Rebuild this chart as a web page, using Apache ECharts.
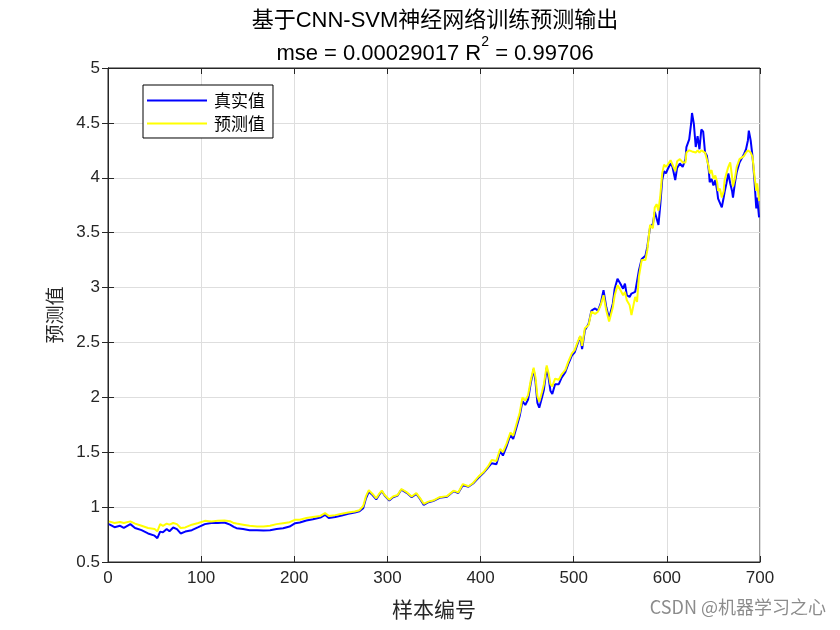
<!DOCTYPE html>
<html>
<head>
<meta charset="utf-8">
<script src="https://cdn.jsdelivr.net/npm/echarts@6/dist/echarts.min.js"></script>
<style>html,body{margin:0;padding:0;background:#fff;}#c{width:840px;height:630px;}</style>
</head>
<body>
<div id="c"></div>
<script>
// sample index (x)
var sampleIdx = [1,7,13,17,24,29,36,43,50,53,56,59,63,66,70,74,78,83,90,97,104,111,118,125,131,135,
138,145,152,160,167,174,181,188,195,201,206,213,220,228,233,237,244,251,258,265,270,274,277,280,
284,288,291,294,297,302,306,311,315,321,326,331,335,339,344,349,356,364,371,376,381,387,392,398,403,408,
412,417,421,424,428,432,435,439,442,445,448,451,454,457,459,461,463,466,468,471,473,475,477,480,484,487,491,494,498,501,504,507,509,
512,516,519,523,526,529,532,535,538,542,544,547,550,553,555,557,560,562,566,568,570,573,577,579,582,585,587,589,591,593,595,597,599,
601,604,606,609,611,614,617,620,621,624,626,627,629,631,633,635,637,639,641,643,645,646,648,650,652,654,655,657,659,661,662,664,666,668,670,671,673,675,678,680,683,685,687,688,690,692,694,696,697,699];
// true values (真实值)
var trueVals = [0.845,0.817,0.83,0.81,0.845,0.81,0.79,0.76,0.74,0.717,0.777,0.77,0.80,0.78,0.814,0.80,0.76,0.777,0.79,0.817,0.845,0.855,0.855,0.86,0.84,0.82,
0.808,0.80,0.79,0.79,0.786,0.79,0.80,0.808,0.823,0.854,0.86,0.878,0.89,0.905,0.93,0.90,0.91,0.923,0.94,0.95,0.962,0.99,1.08,1.14,
1.11,1.07,1.11,1.145,1.105,1.06,1.09,1.105,1.16,1.128,1.09,1.12,1.075,1.02,1.045,1.055,1.085,1.095,1.145,1.128,1.20,1.185,1.215,1.27,1.31,1.36,
1.40,1.39,1.51,1.47,1.555,1.66,1.62,1.74,1.83,1.966,1.93,1.98,2.134,2.256,2.14,1.95,1.906,2.0,2.07,2.27,2.18,2.06,2.03,2.12,2.12,2.18,2.23,2.30,2.38,2.41,2.485,2.555,2.44,
2.61,2.67,2.79,2.81,2.79,2.855,2.976,2.82,2.72,2.855,2.99,3.08,3.036,2.99,3.036,2.93,2.915,2.945,2.96,2.945,3.157,3.26,3.29,3.37,3.55,3.58,3.69,3.70,3.57,3.76,3.98,4.06,4.04,
4.08,4.13,4.10,3.98,4.09,4.13,4.10,4.17,4.28,4.35,4.49,4.59,4.49,4.28,4.38,4.26,4.44,4.42,4.23,4.20,4.07,3.96,3.99,3.93,3.98,3.88,3.81,3.82,3.73,3.82,3.87,3.95,4.04,3.95,3.88,3.82,3.95,4.05,4.14,4.17,4.22,4.26,4.34,4.43,4.34,4.19,3.98,3.72,3.82,3.64];
// predicted values (预测值)
var predVals = [0.87,0.855,0.865,0.855,0.87,0.85,0.83,0.81,0.80,0.78,0.845,0.83,0.85,0.84,0.855,0.845,0.81,0.815,0.84,0.855,0.875,0.87,0.875,0.878,0.872,0.855,
0.85,0.84,0.83,0.823,0.823,0.83,0.845,0.854,0.863,0.885,0.885,0.90,0.91,0.92,0.945,0.92,0.927,0.94,0.95,0.96,0.972,1.01,1.10,1.155,
1.12,1.08,1.12,1.15,1.11,1.067,1.097,1.11,1.165,1.134,1.097,1.128,1.082,1.03,1.05,1.06,1.09,1.10,1.15,1.134,1.21,1.19,1.22,1.28,1.317,1.37,
1.43,1.42,1.53,1.50,1.58,1.68,1.65,1.77,1.86,2.0,1.97,2.02,2.16,2.27,2.18,2.01,1.96,2.05,2.12,2.29,2.22,2.12,2.10,2.17,2.16,2.21,2.25,2.32,2.40,2.43,2.50,2.56,2.47,
2.63,2.66,2.78,2.76,2.78,2.84,2.93,2.79,2.69,2.82,2.93,3.02,2.98,2.93,2.96,2.885,2.84,2.75,2.915,2.87,3.10,3.25,3.25,3.34,3.57,3.54,3.73,3.76,3.70,3.84,4.04,4.12,4.10,
4.12,4.16,4.15,4.06,4.15,4.17,4.14,4.14,4.23,4.25,4.25,4.24,4.25,4.23,4.25,4.23,4.25,4.25,4.23,4.22,4.10,4.04,4.07,3.99,4.02,3.96,3.88,3.90,3.82,3.88,3.98,4.04,4.10,4.14,4.01,3.92,3.99,4.10,4.17,4.16,4.20,4.23,4.25,4.26,4.23,4.19,4.02,3.88,3.95,3.79];
var xTicks = [0,100,200,300,400,500,600,700];
var yTicks = [0.5,1,1.5,2,2.5,3,3.5,4,4.5,5];

var titleLine1 = '基于CNN-SVM神经网络训练预测输出';
var mseText = 'mse = 0.00029017 R';
var r2Text = ' = 0.99706';
var legendNames = ['真实值','预测值'];

function pairs(xs, ys){ return xs.map(function(x,i){ return [x, ys[i]]; }); }

var chart = echarts.init(document.getElementById('c'), null, {renderer:'canvas'});
var fontLatin = '"Liberation Sans", Arial, "Noto Sans CJK SC", sans-serif';
var fontCJK = '"Noto Sans CJK SC", "Liberation Sans", sans-serif';
var axisColor = '#262626';
chart.setOption({
  backgroundColor: '#ffffff',
  animation: false,
  title: [
    { text: titleLine1, left: 430, top: 5, textAlign: 'center',
      textStyle: { fontSize: 22, fontWeight: 'normal', color: '#000', fontFamily: fontLatin } },
    { text: '{a|' + mseText + '}{s|2}{a|' + r2Text + '}', left: 430, top: 30, textAlign: 'center',
      textStyle: { fontWeight: 'normal', rich: {
        a: { fontSize: 22, fontWeight: 'normal', color: '#000', fontFamily: fontLatin, lineHeight: 30, verticalAlign: 'bottom' },
        s: { fontSize: 14, fontWeight: 'normal', color: '#000', fontFamily: fontLatin, lineHeight: 30, verticalAlign: 'top' }
      } } }
  ],
  legend: {
    data: legendNames,
    orient: 'vertical',
    left: 143, top: 85,
    width: 129,
    backgroundColor: '#fff',
    borderColor: '#000', borderWidth: 1,
    padding: [7, 8, 6, 4],
    itemGap: 6,
    itemWidth: 60, itemHeight: 2,
    icon: 'rect',
    textStyle: { fontSize: 17, color: '#000', fontFamily: fontCJK, padding: [0,0,0,2] }
  },
  grid: { left: 108, right: 80, top: 68, bottom: 68, show: true, borderColor: axisColor, borderWidth: 1, backgroundColor: 'transparent' },
  xAxis: [{
    type: 'value', min: 0, max: 700, interval: 100,
    name: '样本编号', nameLocation: 'middle', nameGap: 37,
    nameTextStyle: { fontSize: 21, color: axisColor, fontFamily: fontCJK },
    axisLine: { show: true, lineStyle: { color: axisColor, width: 1 } },
    axisTick: { show: true, inside: true, length: 6, lineStyle: { color: axisColor } },
    axisLabel: { fontSize: 17, color: axisColor, fontFamily: fontLatin, margin: 8 },
    splitLine: { show: true, lineStyle: { color: '#dedede', width: 1 } }
  }, {
    type: 'value', min: 0, max: 700, interval: 100, position: 'top',
    axisLine: { show: true, lineStyle: { color: axisColor } },
    axisTick: { show: true, inside: true, length: 6, lineStyle: { color: axisColor } },
    axisLabel: { show: false }, splitLine: { show: false }
  }],
  yAxis: [{
    type: 'value', min: 0.5, max: 5, interval: 0.5,
    name: '预测值', nameLocation: 'middle', nameGap: 44, nameRotate: 90,
    nameTextStyle: { fontSize: 19, color: axisColor, fontFamily: fontCJK },
    axisLine: { show: true, lineStyle: { color: axisColor, width: 1 } },
    axisTick: { show: true, inside: true, length: 6, lineStyle: { color: axisColor } },
    axisLabel: { fontSize: 17, color: axisColor, fontFamily: fontLatin, margin: 8 },
    splitLine: { show: true, lineStyle: { color: '#dedede', width: 1 } }
  }, {
    type: 'value', min: 0.5, max: 5, interval: 0.5, position: 'right',
    axisLine: { show: true, lineStyle: { color: axisColor } },
    axisTick: { show: true, inside: true, length: 6, lineStyle: { color: axisColor } },
    axisLabel: { show: false }, splitLine: { show: false }
  }],
  series: [
    { name: legendNames[0], type: 'line', data: pairs(sampleIdx, trueVals), showSymbol: false, symbol: 'none',
      lineStyle: { color: '#0000ff', width: 2 }, itemStyle: { color: '#0000ff' } },
    { name: legendNames[1], type: 'line', data: pairs(sampleIdx, predVals), showSymbol: false, symbol: 'none',
      lineStyle: { color: '#ffff00', width: 2 }, itemStyle: { color: '#ffff00' } }
  ],
  graphic: [{
    type: 'text', right: 14, top: 598,
    style: { text: 'CSDN @机器学习之心', fontSize: 18, fill: '#8c8c8c', fontFamily: fontCJK }
  }]
});
</script>
</body>
</html>
